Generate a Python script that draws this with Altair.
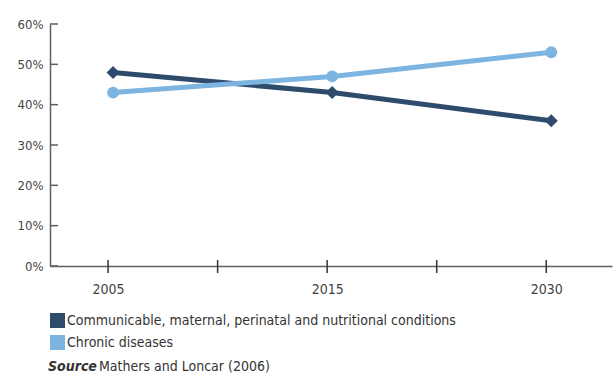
import altair as alt
import pandas as pd

# Share of deaths by cause group, projected
years = ["2005", "2015", "2030"]
year_pos = [0, 2, 4]  # position on the five-tick time axis
communicable = [48, 43, 36]
chronic = [43, 47, 53]

series_names = [
    "Communicable, maternal, perinatal and nutritional conditions",
    "Chronic diseases",
]
series_colors = ["#2f4b6c", "#7db4e0"]
series_shapes = ["diamond", "circle"]

y_ticks = [0, 10, 20, 30, 40, 50, 60]
x_ticks = [0, 1, 2, 3, 4]
x_labels = {0: "2005", 2: "2015", 4: "2030"}

FONT = "Liberation Sans Narrow, DejaVu Sans Condensed, sans-serif"
W, H = 562, 242

rows = []
for name, vals in zip(series_names, [communicable, chronic]):
    for yr, pos, v in zip(years, year_pos, vals):
        rows.append({"series": name, "year": yr, "pos": pos, "share": v})
df = pd.DataFrame(rows)

label_expr = " : ".join(
    f"datum.value == {k} ? '{v}'" for k, v in x_labels.items()
) + " : ''"

x_scale = alt.Scale(domain=[-0.53, 4.6], nice=False, zero=False)
y_scale = alt.Scale(domain=[0, 60], nice=False)
color_scale = alt.Scale(domain=series_names, range=series_colors)

x_enc = alt.X(
    "pos:Q",
    scale=x_scale,
    axis=alt.Axis(
        values=x_ticks, labelExpr=label_expr, ticks=False, grid=False,
        domainColor="#5f5f5f", domainWidth=1.5, labelPadding=16,
        labelFont=FONT, labelFontSize=14, labelColor="#444444", title=None,
    ),
)
y_enc = alt.Y(
    "share:Q",
    scale=y_scale,
    axis=alt.Axis(
        values=y_ticks, labelExpr="datum.value + '%'", ticks=False, grid=False,
        domainColor="#5f5f5f", domainWidth=1.5, labelPadding=7,
        labelFont=FONT, labelFontSize=13, labelColor="#444444", title=None,
    ),
)

lines = alt.Chart(df).mark_line(strokeWidth=5, xOffset=5).encode(
    x=x_enc,
    y=y_enc,
    color=alt.Color("series:N", scale=color_scale, legend=None),
    detail="series:N",
)

# One marker layer per series, each with its own glyph
marker_layers = []
for name, shape, size in zip(series_names, series_shapes, [170, 140]):
    marker_layers.append(
        alt.Chart(df).transform_filter(alt.datum.series == name)
        .mark_point(filled=True, opacity=1, size=size, shape=shape, xOffset=5)
        .encode(
            x=alt.X("pos:Q", scale=x_scale),
            y=alt.Y("share:Q", scale=y_scale),
            color=alt.Color("series:N", scale=color_scale, legend=None),
        )
    )

# Legend carrier: square swatches, the marks themselves stay invisible
legend_layer = alt.Chart(df).mark_point(
    filled=True, shape="square", opacity=0, size=10
).encode(
    x=alt.X("pos:Q", scale=x_scale),
    y=alt.Y("share:Q", scale=y_scale),
    color=alt.Color(
        "series:N",
        scale=color_scale,
        legend=alt.Legend(
            title=None, orient="none", legendX=0, legendY=289,
            symbolType="square", symbolSize=225, symbolStrokeWidth=0,
            symbolOpacity=1,
            labelFont=FONT, labelFontSize=14, labelColor="#333333",
            labelOffset=2, rowPadding=7, labelLimit=600,
        ),
    ),
)

# Inward ticks on the value axis
y_tick_marks = alt.Chart(pd.DataFrame({"v": y_ticks})).mark_rule(
    color="#5f5f5f", strokeWidth=1.5
).encode(
    y=alt.Y("v:Q", scale=y_scale),
    x=alt.value(0),
    x2=alt.value(8),
)

# Ticks crossing the time axis
x_tick_marks = alt.Chart(pd.DataFrame({"t": x_ticks})).mark_rule(
    color="#333333", strokeWidth=1.5
).encode(
    x=alt.X("t:Q", scale=x_scale),
    y=alt.value(H - 6),
    y2=alt.value(H + 7),
)

source_df = pd.DataFrame({"a": ["Source"], "b": ["Mathers and Loncar (2006)"]})
source_lbl = alt.Chart(source_df).mark_text(
    align="left", baseline="middle", font=FONT, fontSize=14,
    fontStyle="italic", fontWeight="bold", color="#333333",
).encode(text="a:N", x=alt.value(-2), y=alt.value(343))
source_txt = alt.Chart(source_df).mark_text(
    align="left", baseline="middle", font=FONT, fontSize=14, color="#333333",
).encode(text="b:N", x=alt.value(49), y=alt.value(343))

chart = alt.layer(
    y_tick_marks, x_tick_marks, lines, *marker_layers, legend_layer,
    source_lbl, source_txt,
).resolve_legend(
    color="independent"
).properties(
    width=W, height=H,
    autosize=alt.AutoSizeParams(type="none"),
    padding={"left": 50, "top": 24, "right": 4, "bottom": 117},
).configure(
    background="white"
).configure_view(stroke=None)

chart.save("out.html", embed_options={"renderer": "svg", "actions": False})
